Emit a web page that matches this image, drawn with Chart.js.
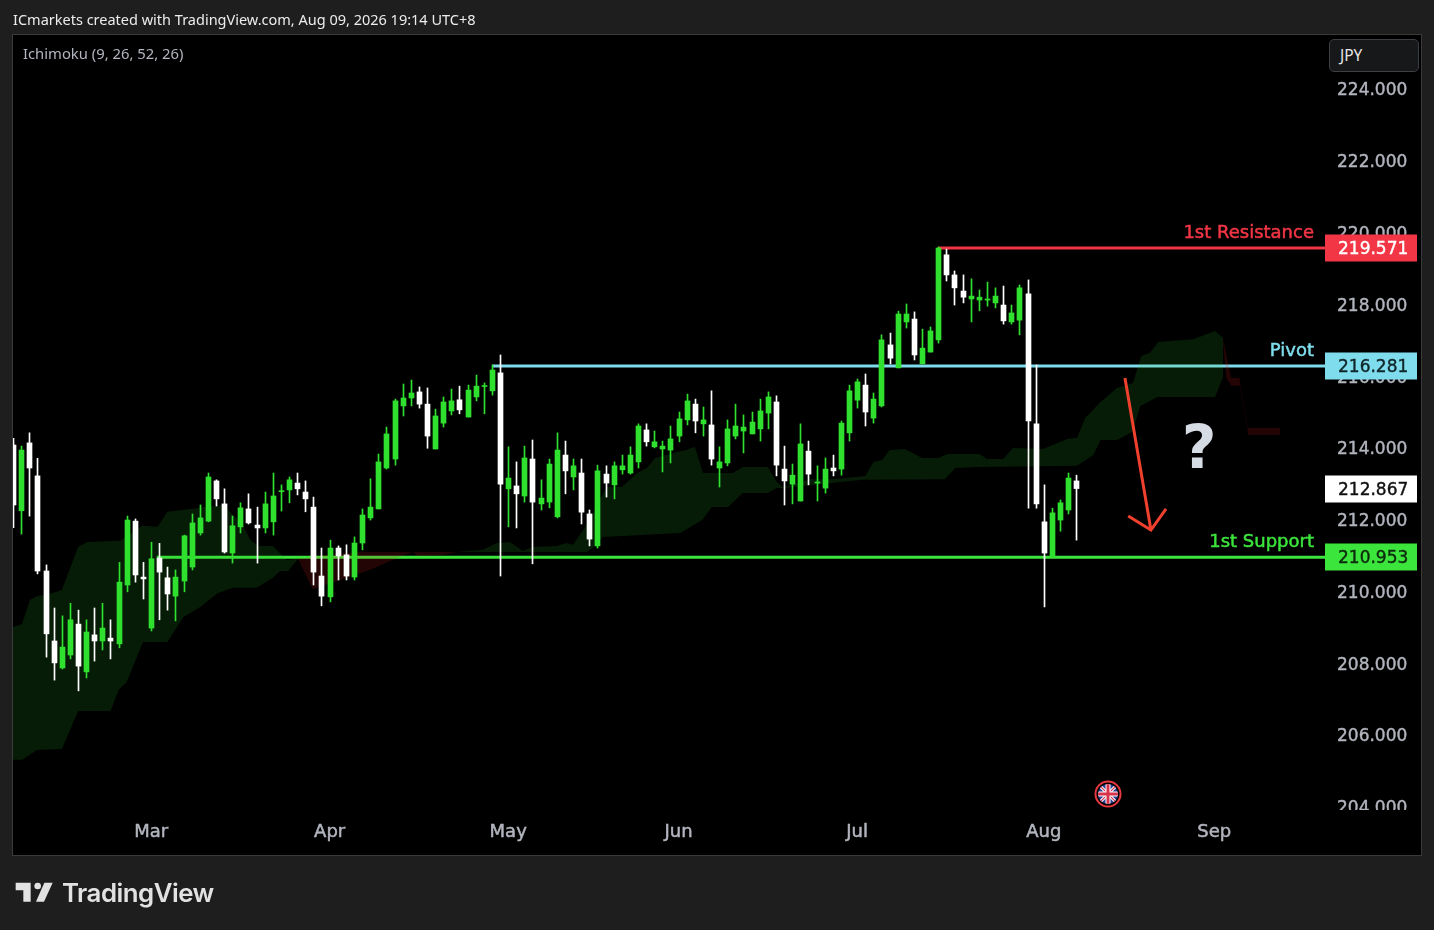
<!DOCTYPE html>
<html>
<head>
<meta charset="utf-8">
<title>ICmarkets chart</title>
<script src="https://cdn.jsdelivr.net/npm/chart.js@4"></script>
<style>
html,body{margin:0;padding:0;background:#1e1e1e;width:1434px;height:930px;overflow:hidden}
#pane{position:absolute;left:12px;top:34px;width:1408px;height:820px;background:#000;border:1px solid #3a3a3a}
canvas#c{position:absolute;left:0;top:0}
.t{position:absolute;white-space:nowrap}
#hdr{left:13px;top:9px;font:14.5px "Noto Sans",sans-serif;color:#ececec}
#ind{left:23px;top:43px;font:14.8px "Noto Sans",sans-serif;color:#b2b5be}
#jpy{left:1329px;top:39px;width:88px;height:31px;border:1px solid #3c3f44;border-radius:5px;background:#17181a}
#jpyt{left:1340px;top:44px;font:15.5px "Noto Sans",sans-serif;color:#e6e6e6}
#tv{left:62px;top:877px;font:600 25.8px Inter,sans-serif;color:#e2e2e2;letter-spacing:-.5px}
svg{position:absolute}
</style>
</head>
<body>
<div id="pane"></div>
<canvas id="c" width="1434" height="930"></canvas>
<div class="t" id="hdr">ICmarkets created with TradingView.com, Aug 09, 2026 19:14 UTC+8</div>
<div class="t" id="ind">Ichimoku (9, 26, 52, 26)</div>
<div class="t" id="jpy"></div>
<div class="t" id="jpyt">JPY</div>
<svg style="left:0;top:850px" width="240" height="80" viewBox="0 0 720 240">
  <polygon fill="#e2e2e2" points="47,98 92,98 92,155 70,155 70,121 47,121"/>
  <circle fill="#e2e2e2" cx="113" cy="108" r="10"/>
  <polygon fill="#e2e2e2" points="158,98 132,155 108,155 133,98"/>
</svg>
<div class="t" id="tv">TradingView</div>
<svg style="left:1094px;top:780px" width="28" height="28" viewBox="0 0 28 28">
  <defs><clipPath id="fc"><circle cx="14" cy="14" r="10"/></clipPath></defs>
  <circle cx="14" cy="14" r="12.5" fill="#000" stroke="#e8383f" stroke-width="2"/>
  <g clip-path="url(#fc)">
    <rect width="28" height="28" fill="#2a3f8f"/>
    <path d="M3 3L25 25M25 3L3 25" stroke="#fff" stroke-width="3.2"/>
    <path d="M3 3L25 25M25 3L3 25" stroke="#d8324a" stroke-width="1.2"/>
    <path d="M14 2V26M2 14H26" stroke="#fff" stroke-width="5"/>
    <path d="M14 2V26M2 14H26" stroke="#d8324a" stroke-width="3"/>
  </g>
</svg>
<script>
const firstBar = -1;
const opens = [214.08,212.25,214.14,213.22,210.57,208.62,207.87,208.23,209.09,207.76,
208.79,208.62,208.70,208.54,210.18,211.96,210.40,208.98,210.93,210.38,
209.87,210.29,210.68,211.63,211.96,213.08,212.44,211.07,211.80,212.30,
211.85,211.77,211.94,212.78,212.83,213.02,212.77,212.35,210.43,209.85,
211.21,211.02,210.40,211.35,212.05,212.30,213.44,213.69,215.17,215.39,
215.56,215.22,213.97,214.69,215.03,215.34,214.86,215.42,215.71,215.59,
216.09,212.86,212.94,212.66,213.69,212.44,212.49,212.08,213.80,213.19,
213.30,212.16,211.27,213.27,212.97,213.39,213.30,213.61,214.50,214.03,
213.97,213.94,214.33,214.78,215.22,214.67,214.64,213.44,213.58,214.33,
214.47,214.39,214.53,214.97,215.28,213.41,212.99,212.52,213.91,213.02,
212.88,213.44,213.41,214.42,215.33,215.75,214.83,215.17,216.87,216.23,
217.51,217.59,216.34,216.67,217.01,219.38,218.82,218.37,218.15,218.12,
218.12,218.04,217.98,217.51,217.56,218.29,214.67,211.94,210.97,211.99,
212.27,213.08];
const closes = [212.41,213.94,213.44,210.57,208.82,208.01,208.45,209.21,207.92,208.87,
208.62,208.98,208.62,210.26,211.99,210.46,210.35,210.91,210.54,209.93,
210.40,211.55,211.91,212.05,213.19,212.58,211.10,211.83,212.33,211.91,
211.77,212.44,212.66,212.80,213.11,212.86,212.58,210.54,209.87,211.21,
210.99,210.43,211.35,212.13,212.35,213.61,214.39,215.31,215.39,215.53,
215.22,214.33,214.89,215.28,215.31,215.06,215.61,215.72,215.72,216.17,
212.99,213.16,212.72,213.72,212.49,212.60,213.55,213.94,213.36,213.50,
212.21,211.46,213.36,213.02,213.50,213.50,213.80,214.61,214.17,214.17,
214.05,214.25,214.81,215.31,214.75,214.78,213.69,213.61,214.53,214.61,
214.58,214.72,215.03,215.42,213.52,213.08,213.24,214.11,213.27,213.05,
213.41,213.36,214.69,215.59,215.84,215.00,215.36,217.01,216.50,217.73,
217.73,216.59,216.78,217.26,219.57,218.82,218.46,218.20,218.23,218.20,
218.14,218.23,217.54,217.76,218.46,214.75,212.44,211.07,212.19,212.47,
213.16,212.867];
const highs = [214.27,214.05,214.42,213.71,210.74,209.54,209.32,209.67,209.48,209.21,
209.54,209.67,209.21,210.81,212.10,212.02,210.81,211.37,211.34,210.68,
210.60,211.57,212.16,212.41,213.30,213.11,212.86,212.10,212.47,212.72,
212.35,212.77,213.30,212.97,213.19,213.30,213.08,212.63,211.21,211.43,
211.27,211.30,211.52,212.30,213.14,213.83,214.58,215.36,215.78,215.89,
215.70,215.67,215.08,215.42,215.64,215.72,215.75,216.03,215.81,216.31,
216.59,214.03,213.61,214.05,214.22,213.11,213.69,214.42,214.19,213.69,
213.69,212.27,213.52,213.50,213.61,213.80,214.03,214.67,214.67,214.47,
214.19,214.61,215.00,215.50,215.36,215.14,215.59,214.03,214.78,215.22,
214.92,215.00,215.36,215.56,215.45,214.05,213.55,214.67,214.19,213.50,
213.72,213.80,214.75,215.75,215.92,216.06,215.53,217.15,217.20,217.81,
218.01,217.79,217.31,217.37,219.60,219.54,218.93,218.82,218.71,218.40,
218.62,218.46,218.51,217.98,218.54,218.68,216.31,212.97,212.32,212.55,
213.30,213.24];
const lows = [211.78,211.60,212.10,210.49,208.17,207.53,207.84,208.12,207.23,207.59,
208.06,208.37,208.12,208.43,209.99,210.26,209.79,208.90,209.21,209.48,
209.18,209.99,210.60,211.57,211.94,212.38,211.07,210.79,211.63,211.88,
210.79,211.63,211.57,212.24,212.47,212.69,212.22,210.18,209.60,209.71,
210.32,210.32,210.32,211.16,211.99,212.30,213.41,213.52,214.89,215.17,
215.11,213.99,213.97,214.58,214.92,214.95,214.86,215.31,214.95,215.47,
210.43,211.80,211.77,212.49,210.77,212.27,212.33,212.05,212.72,212.83,
211.88,211.27,211.21,212.63,212.58,213.27,213.27,213.44,214.05,214.00,
213.33,213.58,214.17,214.64,214.42,214.33,213.52,212.91,213.50,214.25,
213.86,214.39,214.19,214.53,213.22,212.41,212.44,212.52,212.97,212.52,
212.74,213.22,213.24,214.19,215.11,214.61,214.69,215.14,216.34,216.23,
217.34,216.45,216.34,216.67,216.92,218.65,217.98,218.04,217.51,217.82,
217.95,217.90,217.45,217.45,217.15,212.32,212.32,209.57,210.97,211.68,
212.16,211.43];

const monthBars = [16,38,60,81,103,126,147];
const monthLabels = ["Mar","Apr","May","Jun","Jul","Aug","Sep"];

const greenTopX = [-1.02,0.09,1.07,1.93,3.9,5,7,8.1,12.2,14.9,16.8,18,24.9,27.3,28.2,29.2,31,32.7,34.1];
const greenTopY = [209.01,209.09,209.76,209.87,209.96,210.04,211.24,211.38,211.41,211.83,211.80,212.22,212.41,211.85,211.44,211.27,211.27,210.88,210.91];
const greenBotX = [-1.02,0.09,1.93,5,7,11,12,13,15,18,20,22,24.2,26.1,29,31,31.9,32.9,34.1];
const greenBotY = [205.31,205.31,205.58,205.61,206.67,206.67,207.26,207.48,208.59,208.59,209.29,209.56,209.95,210.10,210.10,210.38,210.57,210.57,210.91];

const redTopX = [34.1,36.8,39.9,41.7,47.9,48.8,53.7];
const redTopY = [210.91,210.99,211.07,211.10,211.10,211.10,211.10];
const redBotX = [34.1,35.9,40.5,43.3,46.3,47.9,48.3,48.8,52.2,53.7];
const redBotY = [210.91,210.07,210.40,210.63,210.93,211.07,211.10,210.99,211.02,211.10];

const green2TopX = [53.7,56.9,58.6,60.2,61.8,63,66,67.2,68,69.5,70.9,71.7,72.2,74,75.9,77.1,78.1,81.2,82,83,84,87.7,88.9,92,93.1,93.9,97.2,100,104,105,106.1,107,108.9,111,113,114.1,118.1,119,121,122.2,125.9,128.9,130.1,131.1,133,135,137,138,139.1,140.1,144.4,147.1,148.1];
const green2TopY = [211.10,211.16,211.35,211.38,211.13,211.24,211.27,211.35,211.30,211.80,212.35,212.74,212.91,212.91,213.30,213.44,213.72,213.91,213.94,214.03,213.30,213.30,213.47,213.47,213.05,212.90,213.13,213.13,213.22,213.61,213.66,213.94,213.97,213.72,213.72,213.83,213.83,213.69,213.69,214.00,213.97,214.25,214.28,214.83,215.28,215.67,215.81,216.56,216.65,216.95,217.03,217.26,217.06];
const green2BotX = [53.7,69.7,70.9,71.7,81.2,83.9,85.1,87.1,88.9,92,93.1,93.9,103.7,113.8,115.1,117.8,130.1,132.1,133,135,136.9,137.9,140,147.1,148.1];
const green2BotY = [211.10,211.10,211.30,211.52,211.63,211.99,212.35,212.35,212.74,212.74,212.88,212.88,213.11,213.13,213.44,213.47,213.50,213.80,214.22,214.22,214.44,215.17,215.42,215.42,215.98];

const red2TopX = [148.1,149.1,150.1,151.1,155.1];
const red2TopY = [217.03,215.95,215.95,214.56,214.56];
const red2BotX = [148.1,148.5,149.1,150.2,151.2,155.1];
const red2BotY = [216.87,215.95,215.73,215.73,214.36,214.36];

const levelNames = ["1st Resistance","Pivot","1st Support"];
const levelValues = [219.571,216.281,210.953];
const levelStartBars = [113,58,16.7];
const levelColors = ["#f23645","#7fdcec","#3ce53c"];
const lastPrice = 212.867;

const arrowX = [136,139.2];
const arrowY = [215.95,211.71];
const arrowHeadX = [136.4,139.2,141.06];
const arrowHeadY = [212.10,211.71,212.30];
const questionBar = 145.15, questionPrice = 213.88;

const xMin = -1.02, xMax = 160.65, yMin = 203.855, yMax = 225.505;
const GREEN = "#2fe02f", WHITE = "#ffffff";

const pts = (xs, ys) => xs.map((x, i) => ({x, y: ys[i]}));
const candleColors = opens.map((o, i) => closes[i] >= o ? GREEN : WHITE);
const bars = (a, b) => a.map((v, i) => ({x: i + firstBar, y: [v, b[i]]}));

const area = (xs, ys, color, fillTo) => ({
  type: "line", data: pts(xs, ys), borderWidth: 0, pointRadius: 0, tension: 0,
  backgroundColor: color, borderColor: "transparent", fill: fillTo, order: 5
});
const CLOUDG = "rgba(46,200,46,0.14)", CLOUDR = "rgba(210,30,30,0.17)";

const datasets = [
  area(greenTopX, greenTopY, CLOUDG, "+1"), area(greenBotX, greenBotY, CLOUDG, false),
  area(redTopX, redTopY, CLOUDR, "+1"), area(redBotX, redBotY, CLOUDR, false),
  area(green2TopX, green2TopY, CLOUDG, "+1"), area(green2BotX, green2BotY, CLOUDG, false),
  area(red2TopX, red2TopY, CLOUDR, "+1"), area(red2BotX, red2BotY, CLOUDR, false),
];
levelValues.forEach((v, i) => datasets.push({
  type: "line", data: [{x: levelStartBars[i], y: v}, {x: xMax, y: v}],
  borderColor: levelColors[i], borderWidth: 3, pointRadius: 0, order: 6
}));
datasets.push({type: "bar", data: bars(lows, highs), backgroundColor: candleColors,
  barThickness: 1, grouped: false, order: 2});
datasets.push({type: "bar", data: bars(opens, closes), backgroundColor: candleColors,
  barThickness: 5, minBarLength: 1, grouped: false, order: 1});
datasets.push({type: "line", data: pts(arrowX, arrowY), borderColor: "#f0412e", borderWidth: 3, pointRadius: 0, order: 0});
datasets.push({type: "line", data: pts(arrowHeadX, arrowHeadY), borderColor: "#f0412e", borderWidth: 3, pointRadius: 0, order: 0});

let labelsNudged = false;
const overlay = {
  id: "overlay",
  beforeDraw(chart) {
    if (labelsNudged) return;
    labelsNudged = true;
    chart.scales.y.getLabelItems(chart.chartArea).forEach(it => { it.options.translation[1] += 2; });
  },
  beforeDatasetsDraw(chart) {
    chart.data.datasets.forEach((d, i) => {
      if (d.type !== "bar") return;
      chart.getDatasetMeta(i).data.forEach(el => { el.x = Math.floor(el.x + 0.45) + 0.5; });
    });
  },
  afterDatasetsDraw(chart) {
    const {ctx, scales: {x, y}, chartArea: ca} = chart;
    ctx.save();
    // time-axis strip hides the price labels that run under it
    ctx.fillStyle = "#000";
    ctx.fillRect(ca.left, ca.bottom, 1420 - ca.left, 854 - ca.bottom);
    ctx.fillRect(ca.right, ca.bottom - 2, 95, 2);
    const tag = (v, bg, fg) => {
      const p = Math.round(y.getPixelForValue(v));
      ctx.fillStyle = bg;
      ctx.fillRect(ca.right, p - 13.5, 92, 27);
      ctx.fillStyle = fg;
      ctx.strokeStyle = fg;
      ctx.lineWidth = 0.4;
      ctx.font = "17px 'DejaVu Sans'";
      ctx.textAlign = "left"; ctx.textBaseline = "middle";
      ctx.fillText(v.toFixed(3), ca.right + 13, p + 1.5);
      ctx.strokeText(v.toFixed(3), ca.right + 13, p + 1.5);
    };
    const tagFg = ["#ffffff", "#10262a", "#0d2a0d"];
    levelValues.forEach((v, i) => {
      tag(v, levelColors[i], tagFg[i]);
      ctx.fillStyle = levelColors[i];
      ctx.strokeStyle = levelColors[i];
      ctx.lineWidth = 0.5;
      ctx.font = "18px 'DejaVu Sans'";
      ctx.textAlign = "right"; ctx.textBaseline = "middle";
      const ly = y.getPixelForValue(v) - 14.5;
      ctx.fillText(levelNames[i], 1314, ly);
      ctx.strokeText(levelNames[i], 1314, ly);
    });
    tag(lastPrice, "#ffffff", "#111111");
    ctx.fillStyle = "#d6dce4";
    ctx.font = "bold 60px 'DejaVu Sans'";
    ctx.textAlign = "center"; ctx.textBaseline = "middle";
    ctx.fillText("?", x.getPixelForValue(questionBar), y.getPixelForValue(questionPrice));
    ctx.restore();
  }
};

new Chart(document.getElementById("c"), {
  data: {datasets},
  plugins: [overlay],
  options: {
    responsive: false, animation: false, devicePixelRatio: 1,
    layout: {padding: {left: 13, right: 13, top: 35, bottom: 75}},
    plugins: {legend: {display: false}, tooltip: {enabled: false}},
    scales: {
      x: {
        type: "linear", min: xMin, max: xMax, offset: false,
        grid: {display: false}, border: {display: false},
        afterBuildTicks: s => { s.ticks = monthBars.map(v => ({value: v})); },
        afterFit: s => { s.height = 43; },
        ticks: {
          z: 1,
          callback: v => monthLabels[monthBars.indexOf(v)],
          color: "#b2b5be", font: {family: "'DejaVu Sans'", size: 18},
          textStrokeColor: "#b2b5be", textStrokeWidth: 0.5,
          padding: 2, maxRotation: 0, autoSkip: false
        }
      },
      y: {
        type: "linear", position: "right", min: yMin, max: yMax,
        grid: {display: false}, border: {display: false},
        afterFit: s => { s.width = 96; },
        ticks: {
          z: 0, stepSize: 2, includeBounds: false,
          callback: v => v.toFixed(3),
          color: "#b2b5be", font: {family: "'DejaVu Sans'", size: 17},
          textStrokeColor: "#b2b5be", textStrokeWidth: 0.4,
          padding: 4
        }
      }
    }
  }
});
</script>
</body>
</html>
